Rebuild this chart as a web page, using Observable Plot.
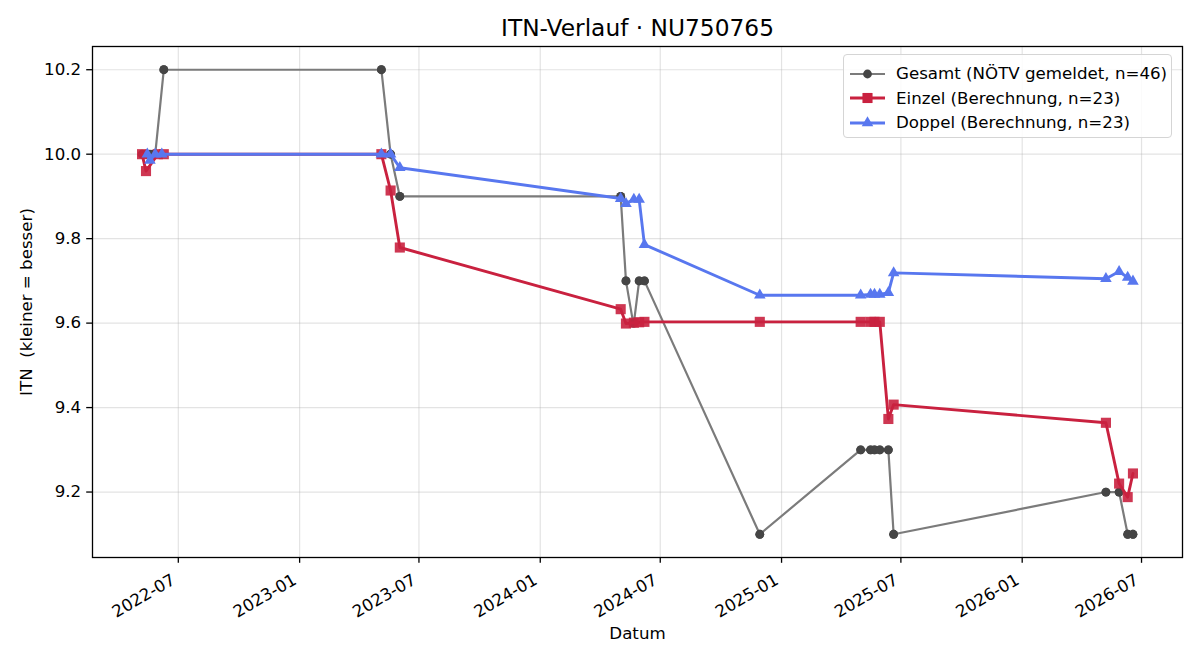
<!DOCTYPE html>
<html>
<head>
<meta charset="utf-8">
<script src="https://cdn.jsdelivr.net/npm/d3@7"></script>
<script src="https://cdn.jsdelivr.net/npm/@observablehq/plot@0.6"></script>
<style>
  body { margin: 0; background: #fff; font-family: "DejaVu Sans", sans-serif; }
  #wrap { position: relative; width: 1200px; height: 660px; }
  svg text { white-space: pre; }
  #legend { position: absolute; left: 843px; top: 54px; width: 329px; height: 84px;
    border: 1.3px solid #d5d5d5; border-radius: 4px; background: rgba(255,255,255,0.85);
    box-sizing: border-box; font-family: "DejaVu Sans", sans-serif; font-size: 16.67px; color: #000; }
  .row { position: absolute; left: 0; height: 24px; display: flex; align-items: center; white-space: pre; }
  .row svg { margin-left: 5px; margin-right: 11px; }
</style>
</head>
<body>
<div id="wrap"></div>
<script>
// ---------- data ----------
const chartTitle = "ITN-Verlauf · NU750765";
const xLabel = "Datum";
const yLabel = "ITN  (kleiner = besser)";
const seriesNames = ["Gesamt (NÖTV gemeldet, n=46)", "Einzel (Berechnung, n=23)", "Doppel (Berechnung, n=23)"];

const gesamtDates = ["2022-05-07","2022-05-13","2022-05-15","2022-05-19","2022-05-23","2022-05-27","2022-06-09","2022-06-09",
  "2023-05-05","2023-05-05","2023-05-19","2023-05-19","2023-06-02","2023-06-02",
  "2024-05-02","2024-05-02","2024-05-10","2024-05-10","2024-05-21","2024-05-22","2024-05-30","2024-05-30","2024-06-07","2024-06-07",
  "2024-11-29","2024-11-29",
  "2025-05-01","2025-05-01","2025-05-16","2025-05-16","2025-05-22","2025-05-22","2025-05-30","2025-05-30","2025-06-12","2025-06-12","2025-06-20","2025-06-20",
  "2026-05-08","2026-05-08","2026-05-28","2026-05-28","2026-06-10","2026-06-10","2026-06-18","2026-06-18"];
const gesamtValues = [10.0,10.0,10.0,10.0,10.0,10.0,10.2,10.2,
  10.2,10.2,10.0,10.0,9.9,9.9,
  9.9,9.9,9.7,9.7,9.6,9.6,9.7,9.7,9.7,9.7,
  9.1,9.1,
  9.3,9.3,9.3,9.3,9.3,9.3,9.3,9.3,9.3,9.3,9.1,9.1,
  9.2,9.2,9.2,9.2,9.1,9.1,9.1,9.1];

const einzelDates = ["2022-05-07","2022-05-13","2022-05-31","2022-06-09",
  "2023-05-05","2023-05-19","2023-06-02",
  "2024-05-02","2024-05-10","2024-05-22","2024-05-30","2024-06-07",
  "2024-11-29",
  "2025-05-01","2025-05-16","2025-05-22","2025-05-30","2025-06-12","2025-06-20",
  "2026-05-08","2026-05-28","2026-06-10","2026-06-18"];
const einzelValues = [10.0,9.96,10.0,10.0,
  10.0,9.914,9.779,
  9.633,9.599,9.601,9.602,9.603,
  9.603,
  9.603,9.603,9.603,9.603,9.373,9.407,
  9.364,9.220,9.188,9.244];

const doppelDates = ["2022-05-15","2022-05-19","2022-05-27","2022-06-06",
  "2023-05-05","2023-05-19","2023-06-02",
  "2024-05-02","2024-05-10","2024-05-22","2024-05-30","2024-06-07",
  "2024-11-29",
  "2025-05-01","2025-05-16","2025-05-22","2025-05-30","2025-06-12","2025-06-20",
  "2026-05-08","2026-05-28","2026-06-10","2026-06-18"];
const doppelValues = [10.0,9.985,10.0,10.0,
  10.0,10.0,9.968,
  9.895,9.883,9.893,9.893,9.786,
  9.666,
  9.666,9.668,9.668,9.668,9.672,9.719,
  9.705,9.722,9.708,9.699];

const yTickValues = [9.2, 9.4, 9.6, 9.8, 10.0, 10.2];
const xTickLabels = ["2022-07","2023-01","2023-07","2024-01","2024-07","2025-01","2025-07","2026-01","2026-07"];

// ---------- styles ----------
const colors = { gesamtLine: "#7b7b7b", gesamtDot: "#454545", einzel: "#c9213f", doppel: "#5877ef" };

// ---------- build ----------
const parse = d3.utcParse("%Y-%m-%d");
const toRows = (dates, vals) => dates.map((d, i) => ({ date: parse(d), v: vals[i] }));
const gRows = toRows(gesamtDates, gesamtValues);
const eRows = toRows(einzelDates, einzelValues);
const dRows = toRows(doppelDates, doppelValues);
const allRows = [...gRows, ...eRows, ...dRows];

const [dMin, dMax] = d3.extent(allRows, r => +r.date);
const dPad = (dMax - dMin) * 0.05;
const xDomain = [new Date(dMin - dPad), new Date(dMax + dPad)];
const [vMin, vMax] = d3.extent(allRows, r => r.v);
const vPad = (vMax - vMin) * 0.05;
const yDomain = [vMin - vPad, vMax + vPad];

const xTicks = xTickLabels.map(s => d3.utcParse("%Y-%m")(s));
const fs = 16.67;

const chart = Plot.plot({
  width: 1200,
  height: 660,
  marginLeft: 92,
  marginRight: 18,
  marginTop: 46,
  marginBottom: 103,
  style: { fontFamily: "DejaVu Sans", fontSize: fs + "px", color: "#000", background: "#fff" },
  x: { type: "utc", domain: xDomain },
  y: { domain: yDomain },
  marks: [
    Plot.gridX({ ticks: xTicks, stroke: "#b0b0b0", strokeOpacity: 0.35, strokeWidth: 1.2 }),
    Plot.gridY({ ticks: yTickValues, stroke: "#b0b0b0", strokeOpacity: 0.35, strokeWidth: 1.2 }),
    // Gesamt
    Plot.line(gRows, { x: "date", y: "v", stroke: colors.gesamtLine, strokeWidth: 2.2 }),
    Plot.dot(gRows, { x: "date", y: "v", r: 4.4, fill: colors.gesamtDot, stroke: null }),
    // Einzel
    Plot.line(eRows, { x: "date", y: "v", stroke: colors.einzel, strokeWidth: 2.9 }),
    Plot.dot(eRows, { x: "date", y: "v", symbol: "square", r: 5.7, fill: colors.einzel, fillOpacity: 0.9, stroke: null }),
    // Doppel
    Plot.line(dRows, { x: "date", y: "v", stroke: colors.doppel, strokeWidth: 2.9 }),
    Plot.dot(dRows, { x: "date", y: "v", symbol: "triangle", r: 4.3, fill: colors.doppel, stroke: null }),
    Plot.frame({ stroke: "#000", strokeWidth: 1.3 }),
    Plot.axisY({ ticks: yTickValues, tickSize: 5.8, tickPadding: 5.5, fontSize: fs, strokeWidth: 1.3,
      tickFormat: d3.format(".1f"), label: null }),
    Plot.axisX({ ticks: xTicks, tickSize: 5.8, strokeWidth: 1.3, tickFormat: () => "", label: null }),
    Plot.text(xTicks, { x: d => d, text: (d, i) => xTickLabels[i], frameAnchor: "bottom", rotate: -30,
      textAnchor: "end", lineAnchor: "middle", dx: -4.5, dy: 21, fontSize: fs, fill: "#000" }),
    Plot.text([xLabel], { text: d => d, frameAnchor: "bottom", lineAnchor: "middle", dy: 76, fontSize: fs, fill: "#000" }),
    Plot.text([yLabel], { text: d => d, frameAnchor: "left", textAnchor: "middle", lineAnchor: "middle",
      rotate: -90, dx: -66, fontSize: fs, fill: "#000" }),
    Plot.text([chartTitle], { text: d => d, frameAnchor: "top", lineAnchor: "middle", dy: -18, fontSize: 23.3, fill: "#000" })
  ]
});

const wrap = document.getElementById("wrap");
wrap.appendChild(chart);

// ---------- legend ----------
const legend = d3.select(wrap).append("div").attr("id", "legend");
const legendSpecs = [
  { name: seriesNames[0], line: colors.gesamtLine, fill: colors.gesamtDot, symbol: d3.symbolCircle, size: Math.PI * 4.4 * 4.4, lw: 2.2 },
  { name: seriesNames[1], line: colors.einzel, fill: colors.einzel, symbol: d3.symbolSquare, size: Math.PI * 5.7 * 5.7, lw: 2.9 },
  { name: seriesNames[2], line: colors.doppel, fill: colors.doppel, symbol: d3.symbolTriangle, size: Math.PI * 4.3 * 4.3, lw: 2.9 }
];
legendSpecs.forEach((s, i) => {
  const row = legend.append("div").attr("class", "row").style("top", (6.5 + i * 24.5) + "px");
  const sv = row.append("svg").attr("width", 36).attr("height", 24);
  sv.append("line").attr("x1", 1).attr("x2", 36).attr("y1", 12).attr("y2", 12)
    .attr("stroke", s.line).attr("stroke-width", s.lw);
  sv.append("path").attr("transform", "translate(18.5,12)")
    .attr("d", d3.symbol(s.symbol, s.size)()).attr("fill", s.fill);
  row.append("span").text(s.name);
});
</script>
</body>
</html>
